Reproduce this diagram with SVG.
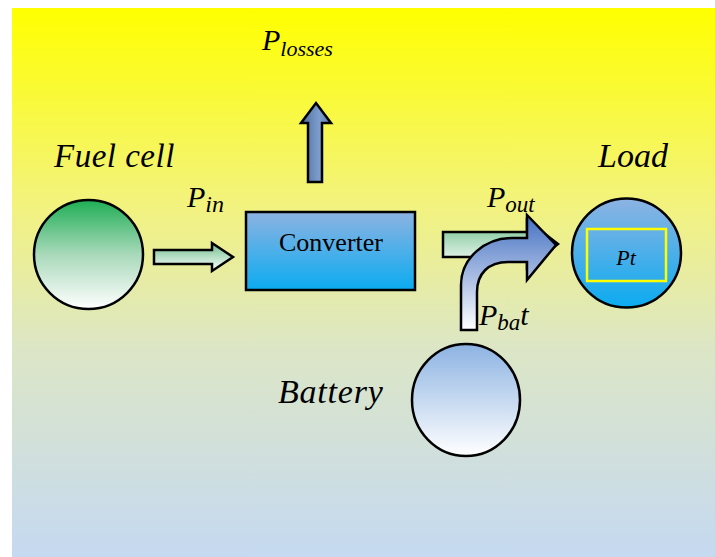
<svg xmlns="http://www.w3.org/2000/svg" width="715" height="557" viewBox="0 0 715 557">
<defs>
<linearGradient id="bg" x1="0" y1="0" x2="0" y2="1">
<stop offset="0" stop-color="#FFFF00"/>
<stop offset="0.35" stop-color="#F3F37C"/>
<stop offset="0.62" stop-color="#DCE6C6"/>
<stop offset="1" stop-color="#C5D9F1"/>
</linearGradient>
<linearGradient id="green" x1="0" y1="0" x2="0" y2="1">
<stop offset="0" stop-color="#1FAE55"/>
<stop offset="0.5" stop-color="#A9D9BA"/>
<stop offset="1" stop-color="#FFFFFF"/>
</linearGradient>
<linearGradient id="garrow" x1="0" y1="0" x2="0" y2="1">
<stop offset="0" stop-color="#6FBF8C"/>
<stop offset="1" stop-color="#FFFFFF"/>
</linearGradient>
<linearGradient id="cyan" x1="0" y1="0" x2="0" y2="1">
<stop offset="0" stop-color="#8DB3E2"/>
<stop offset="1" stop-color="#0BABF0"/>
</linearGradient>
<linearGradient id="batt" x1="0" y1="0" x2="0" y2="1">
<stop offset="0" stop-color="#8DB3E2"/>
<stop offset="1" stop-color="#FFFFFF"/>
</linearGradient>
<linearGradient id="barrow" x1="0" y1="0" x2="0" y2="1">
<stop offset="0" stop-color="#4470C2"/>
<stop offset="1" stop-color="#FFFFFF"/>
</linearGradient>
<linearGradient id="larrow" x1="0" y1="0" x2="1" y2="0">
<stop offset="0" stop-color="#4D6E9E"/>
<stop offset="0.6" stop-color="#7D9ECC"/>
<stop offset="1" stop-color="#5E80B0"/>
</linearGradient>
</defs>
<style>
.sh{stroke:#000;stroke-width:2.5}
.it{font-style:italic}
</style>
<rect x="12" y="8" width="703" height="549" fill="url(#bg)"/>
<g id="connectors">
<path class="sh" fill="url(#garrow)" d="M154,250 L212,250 L212,243 L233,257 L212,271 L212,264 L154,264 Z"/>
<path class="sh" fill="url(#larrow)" d="M308,182 L308,123 L301,123 L316,103 L331,123 L322,123 L322,182 Z"/>
<path class="sh" fill="url(#garrow)" d="M443,232 L527,232 L527,220 L558,244 L527,268 L527,257 L443,257 Z"/>
<path class="sh" fill="url(#barrow)" d="M461,330 L461,285 C461,258 485,238 512,238 L527,238 L527,215 L556,245 L527,280 L527,262 L508,262 C488,262 477,274 477,292 L477,330 Z"/>
</g>
<g font-family="Liberation Serif" fill="#000">
<g id="fuelcell">
<circle class="sh" cx="88.5" cy="254.5" r="54.5" fill="url(#green)"/>
<text class="it" x="54" y="167" font-size="33" letter-spacing="0.5">Fuel cell</text>
</g>
<g id="converter">
<rect class="sh" x="246" y="212" width="169" height="78" fill="url(#cyan)"/>
<text x="331" y="251" font-size="26" text-anchor="middle">Converter</text>
</g>
<g id="load">
<circle class="sh" cx="626.5" cy="253" r="54.5" fill="url(#cyan)"/>
<rect x="587" y="229" width="79" height="52" fill="none" stroke="#FFFF00" stroke-width="2.5"/>
<text class="it" x="626" y="265" font-size="22" text-anchor="middle">Pt</text>
<text class="it" x="598" y="167" font-size="34">Load</text>
</g>
<g id="battery">
<ellipse class="sh" cx="466" cy="400" rx="54" ry="56" fill="url(#batt)"/>
<text class="it" x="278" y="403" font-size="34" letter-spacing="0.8">Battery</text>
</g>
<g id="labels" class="it">
<text x="262" y="50" font-size="30">P<tspan font-size="22" dy="6">losses</tspan></text>
<text x="187" y="207" font-size="30">P<tspan font-size="24" dy="5">in</tspan></text>
<text x="487" y="207" font-size="30">P<tspan font-size="23" dy="5">out</tspan></text>
<text x="479" y="325" font-size="30">P<tspan font-size="23" dy="5">ba</tspan><tspan dy="-5">t</tspan></text>
</g>
</g>
</svg>
